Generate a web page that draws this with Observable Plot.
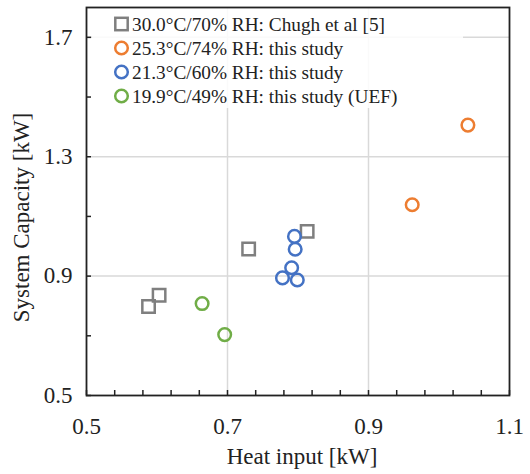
<!DOCTYPE html>
<html>
<head>
<meta charset="utf-8">
<script src="https://cdn.jsdelivr.net/npm/d3@7"></script>
<script src="https://cdn.jsdelivr.net/npm/@observablehq/plot@0.6"></script>
<style>
  body { margin: 0; background: #fff; }
</style>
</head>
<body>
<div id="wrap"></div>
<script>
// Series names and colours
const seriesNames = [
  "30.0°C/70% RH: Chugh et al [5]",
  "25.3°C/74% RH: this study",
  "21.3°C/60% RH: this study",
  "19.9°C/49% RH: this study (UEF)"
];
const seriesColors = ["#7f7f7f", "#ed7d31", "#4472c4", "#70ad47"];
const seriesSymbols = ["square", "circle", "circle", "circle"];

// Values (Heat input [kW], System Capacity [kW])
const chughX = [0.588, 0.603, 0.730, 0.813];
const chughY = [0.798, 0.836, 0.991, 1.050];
const s25X = [0.962, 1.041];
const s25Y = [1.139, 1.406];
const s21X = [0.795, 0.796, 0.791, 0.778, 0.799];
const s21Y = [1.033, 0.990, 0.928, 0.894, 0.887];
const s19X = [0.664, 0.696];
const s19Y = [0.808, 0.704];

// Tick labels
const xTicks = [0.5, 0.7, 0.9, 1.1];
const yTicks = [0.5, 0.9, 1.3, 1.7];
const xMinor = d3.range(0, 16).map(i => +(0.5 + i * 0.04).toFixed(2));
const yMinor = [0.5, 0.7, 0.9, 1.1, 1.3, 1.5, 1.7];
const xGrid = [0.7, 0.9];
const yGrid = [0.9, 1.3, 1.7];

const allX = [chughX, s25X, s21X, s19X];
const allY = [chughY, s25Y, s21Y, s19Y];
const points = [];
allX.forEach((xs, s) => xs.forEach((x, i) => points.push({x, y: allY[s][i], s})));
const squares = points.filter(d => seriesSymbols[d.s] === "square");
const circles = points.filter(d => seriesSymbols[d.s] === "circle");

const font = "Liberation Serif, Times New Roman, serif";
const chart = Plot.plot({
  width: 530,
  height: 474,
  marginLeft: 86,
  marginRight: 21,
  marginTop: 7,
  marginBottom: 79,
  style: {fontFamily: font, fontSize: "22px", color: "#222", background: "white"},
  x: {domain: [0.5, 1.1]},
  y: {domain: [0.5, 1.8]},
  marks: [
    Plot.gridX(xGrid, {stroke: "#d9d9d9", strokeOpacity: 1, strokeWidth: 1.5}),
    Plot.gridY(yGrid, {stroke: "#d9d9d9", strokeOpacity: 1, strokeWidth: 1.5}),
    Plot.axisX(xMinor, {tickSize: -5, tickFormat: () => "", strokeWidth: 1.5, label: null}),
    Plot.axisY(yMinor, {tickSize: -5, tickFormat: () => "", strokeWidth: 1.5, label: null}),
    Plot.axisX(xTicks, {tickSize: 0, tickPadding: 22, fontSize: 23, fontFamily: font, label: null, tickFormat: d => d.toFixed(1)}),
    Plot.axisY(yTicks, {tickSize: 0, tickPadding: 14, fontSize: 23, fontFamily: font, label: null, tickFormat: d => d.toFixed(1)}),
    Plot.dot(squares, {x: "x", y: "y", r: 7, symbol: "square", stroke: d => seriesColors[d.s], strokeWidth: 2.5, fill: "none"}),
    Plot.dot(circles, {x: "x", y: "y", r: 6.3, symbol: "circle", stroke: d => seriesColors[d.s], strokeWidth: 2.5, fill: "none"}),
    Plot.frame({stroke: "#222", strokeWidth: 1.8}),
    Plot.text(["Heat input [kW]"], {frameAnchor: "bottom", dy: 68, dx: 4, fontSize: 23, fontFamily: font, fill: "#222"}),
    Plot.text(["System Capacity [kW]"], {frameAnchor: "left", dx: -65, dy: 16, rotate: -90, textAnchor: "middle", fontSize: 23, fontFamily: font, fill: "#222"})
  ]
});

// Legend drawn into the same SVG, above the grid (inserted before the tick/frame layers)
const svg = d3.select(chart);
const lg = svg.insert("g", "g:nth-of-type(3)")
  .attr("font-family", font).attr("font-size", 19.3).attr("fill", "#222").attr("text-anchor", "start");
lg.append("rect").attr("x", 92).attr("y", 8).attr("width", 371).attr("height", 100)
  .attr("fill", "white").attr("fill-opacity", 0.85);
const rowY = [24, 48, 72, 96];
seriesNames.forEach((name, i) => {
  const c = seriesColors[i];
  if (seriesSymbols[i] === "square") {
    lg.append("rect").attr("x", 115.3).attr("y", rowY[i] - 6.2).attr("width", 12.4).attr("height", 12.4)
      .attr("fill", "none").attr("stroke", c).attr("stroke-width", 2.5);
  } else {
    lg.append("circle").attr("cx", 121.5).attr("cy", rowY[i]).attr("r", 6.3)
      .attr("fill", "none").attr("stroke", c).attr("stroke-width", 2.5);
  }
  lg.append("text").attr("x", 132).attr("y", rowY[i]).attr("dy", "0.34em").text(name);
});

document.getElementById("wrap").appendChild(chart);
</script>
</body>
</html>
